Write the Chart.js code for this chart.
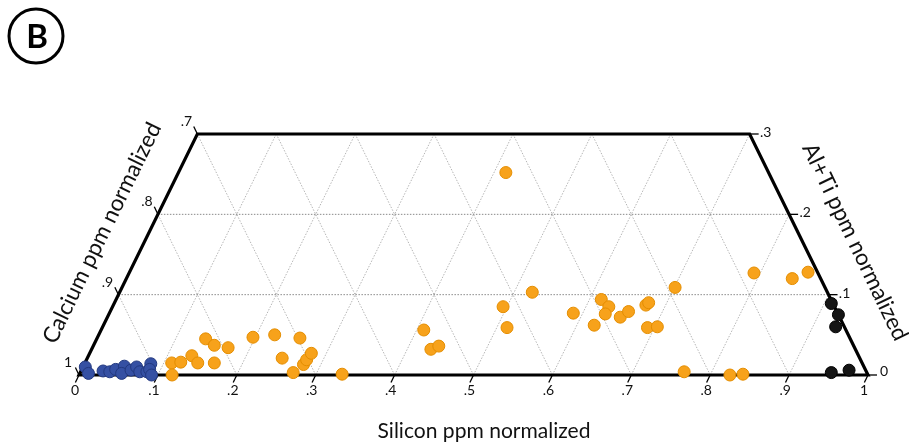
<!DOCTYPE html>
<html><head><meta charset="utf-8">
<script src="https://cdn.jsdelivr.net/npm/chart.js@4.4.1/dist/chart.umd.min.js"></script>
<style>html,body{margin:0;padding:0;background:#fff;}canvas{display:block;}</style>
</head><body><canvas id="c" width="909" height="444"></canvas>
<script>
// ---- data (ternary fractions: silicon and Al+Ti; calcium = remainder) ----
const blueSilicon = [0.003,0.011,0.028,0.037,0.043,0.052,0.053,0.063,0.068,0.075,0.084,0.084,0.086,0.092];
const blueAlTi    = [0.010,0.002,0.005,0.004,0.007,0.011,0.002,0.006,0.010,0.004,0.004,0.014,0.007,0.000];

const orangeSilicon = [0.415,0.110,0.121,0.131,0.143,0.164,0.118,0.138,0.153,0.172,0.197,0.223,0.257,0.247,0.270,0.278,0.279,0.281,0.333,
  0.409,0.430,0.438,0.495,0.523,0.513,0.588,0.615,0.629,0.629,0.622,0.650,0.657,0.675,0.677,0.691,0.703,0.701,0.765,0.825,0.841,0.792,0.844,0.860];
const orangeAlTi    = [0.252,0.015,0.016,0.024,0.015,0.015,0.000,0.045,0.037,0.034,0.047,0.050,0.046,0.021,0.003,0.013,0.019,0.027,0.001,
  0.056,0.032,0.036,0.085,0.103,0.059,0.077,0.094,0.085,0.076,0.062,0.072,0.079,0.087,0.090,0.059,0.060,0.109,0.004,0.000,0.001,0.127,0.120,0.128];

const blackSilicon = [0.909,0.925,0.929,0.952,0.973];
const blackAlTi    = [0.089,0.075,0.060,0.003,0.006];

const siliconTicks = [0,0.1,0.2,0.3,0.4,0.5,0.6,0.7,0.8,0.9,1];
const siliconTickLabels = ['0','.1','.2','.3','.4','.5','.6','.7','.8','.9','1'];
const calciumTicks = [1,0.9,0.8,0.7];
const calciumTickLabels = ['1','.9','.8','.7'];
const alTiTicks = [0,0.1,0.2,0.3];
const alTiTickLabels = ['0','.1','.2','.3'];
const gridSteps = [0.1,0.2,0.3,0.4,0.5,0.6,0.7,0.8,0.9];
const alTiMax = 0.3;

const titleSilicon = 'Silicon ppm normalized';
const titleCalcium = 'Calcium ppm normalized';
const titleAlTi = 'Al+Ti ppm normalized';
const panelLetter = 'B';

// ternary -> cartesian
const toXY = (si, al) => ({x: si + al / 2, y: al});
const pts = (S, A) => S.map((s, i) => toXY(s, A[i]));

const FONT = 'Lato, "Open Sans", sans-serif';

const ternaryPlugin = {
  id: 'ternary',
  beforeDatasetsDraw(chart) {
    const ctx = chart.ctx, sx = chart.scales.x, sy = chart.scales.y;
    const P = (si, al) => { const c = toXY(si, al); return [sx.getPixelForValue(c.x), sy.getPixelForValue(c.y)]; };
    const line = (a, b) => { ctx.beginPath(); ctx.moveTo(a[0], a[1]); ctx.lineTo(b[0], b[1]); ctx.stroke(); };
    ctx.save();
    ctx.lineWidth = 1;
    ctx.setLineDash([1.5, 1.5]);
    ctx.strokeStyle = '#b5b5b5';
    gridSteps.forEach(s => {
      const am = Math.min(alTiMax, 1 - s);
      line(P(s, 0), P(s, am));
      const c = s, am2 = Math.min(alTiMax, 1 - c);
      line(P(1 - c, 0), P(1 - c - am2, am2));
    });
    ctx.strokeStyle = '#8a8a8a';
    alTiTicks.forEach(a => { if (a > 0 && a < alTiMax) line(P(0, a), P(1 - a, a)); });
    ctx.setLineDash([]);
    ctx.strokeStyle = '#000';
    ctx.lineWidth = 3.2;
    ctx.lineJoin = 'miter';
    ctx.beginPath();
    const v = [P(0,0), P(0,alTiMax), P(1-alTiMax,alTiMax), P(1,0)];
    ctx.moveTo(v[0][0], v[0][1]); v.slice(1).forEach(p => ctx.lineTo(p[0], p[1])); ctx.closePath(); ctx.stroke();
    ctx.lineWidth = 1.3;
    siliconTicks.forEach(t => { const p = P(t, 0); line(p, [p[0] - 3.6, p[1] + 7.5]); });
    calciumTicks.forEach(c => { const p = P(0, 1 - c); line(p, [p[0] - 3.6, p[1] - 7.5]); });
    alTiTicks.forEach(a => { const p = P(1 - a, a); line(p, [p[0] + 9, p[1]]); });
    ctx.fillStyle = '#111';
    ctx.font = '14px ' + FONT;
    ctx.textAlign = 'center'; ctx.textBaseline = 'middle';
    siliconTicks.forEach((t, i) => { const p = P(t, 0); ctx.fillText(siliconTickLabels[i], p[0] - 4, p[1] + 15); });
    calciumTicks.forEach((c, i) => { const p = P(0, 1 - c); ctx.fillText(calciumTickLabels[i], p[0] - 11, p[1] - 12.5); });
    alTiTicks.forEach((a, i) => { const p = P(1 - a, a); ctx.fillText(alTiTickLabels[i], p[0] + 16, p[1] - (a === 0 ? 4 : 1.5)); });
    ctx.restore();
  },
  afterDraw(chart) {
    const ctx = chart.ctx;
    ctx.save();
    ctx.fillStyle = '#111';
    ctx.font = '20px ' + FONT;
    const k = 213 / ctx.measureText(titleSilicon).width;
    const fs = 20 * k;
    ctx.font = fs.toFixed(2) + 'px ' + FONT;
    ctx.textAlign = 'center'; ctx.textBaseline = 'middle';
    ctx.fillText(titleSilicon, 484, 431);
    ctx.font = (fs * 1.07).toFixed(2) + 'px ' + FONT;
    ctx.save(); ctx.translate(102, 233); ctx.rotate(-64 * Math.PI / 180); ctx.fillText(titleCalcium, 0, 0); ctx.restore();
    ctx.save(); ctx.translate(855, 242); ctx.rotate(64.4 * Math.PI / 180); ctx.fillText(titleAlTi, 0, 0); ctx.restore();
    ctx.lineWidth = 3; ctx.strokeStyle = '#000';
    ctx.beginPath(); ctx.arc(36, 36, 27, 0, Math.PI * 2); ctx.stroke();
    ctx.font = 'bold 33px ' + FONT;
    ctx.fillStyle = '#000';
    ctx.fillText(panelLetter, 37, 37);
    ctx.restore();
  }
};

const ds = (label, data, fill, border) => ({
  label, data, backgroundColor: fill, borderColor: border, borderWidth: 1,
  pointRadius: 6, pointHoverRadius: 6, clip: false
});

new Chart(document.getElementById('c'), {
  type: 'scatter',
  data: { datasets: [
    ds('Blue', pts(blueSilicon, blueAlTi), '#3550a3', '#22387f'),
    ds('Orange', pts(orangeSilicon, orangeAlTi), '#f7a21b', '#e48d00'),
    ds('Black', pts(blackSilicon, blackAlTi), '#151515', '#000')
  ]},
  options: {
    responsive: false, animation: false,
    layout: { padding: { left: 79, right: 41, top: 134, bottom: 69 } },
    scales: {
      x: { type: 'linear', min: 0, max: 1, display: false },
      y: { type: 'linear', min: 0, max: alTiMax, display: false }
    },
    plugins: { legend: { display: false }, tooltip: { enabled: false } }
  },
  plugins: [ternaryPlugin]
});
</script>
</body></html>
